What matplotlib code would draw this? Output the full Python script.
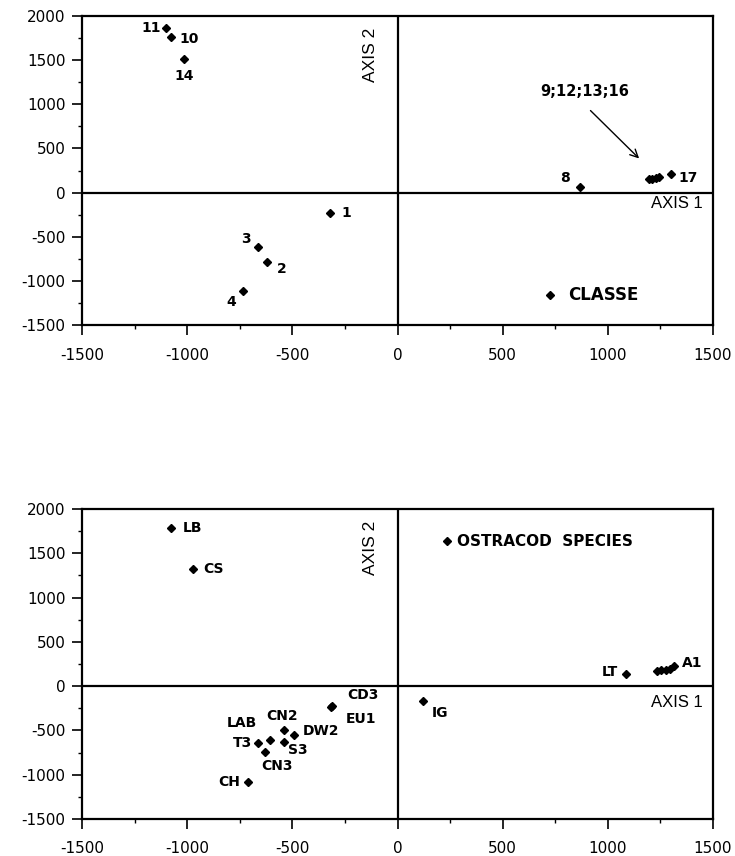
import matplotlib
matplotlib.use("Agg")
import matplotlib.pyplot as plt
from matplotlib.ticker import MultipleLocator

plt.rcParams["axes.unicode_minus"] = False

# --- top panel: classes ---
cls_x = [-1103, -1077, -1015, -323, -663, -619, -734, 868, 1195, 1212, 1228, 1244, 1299]
cls_y = [1865, 1757, 1508, -225, -620, -786, -1109, 68, 150, 158, 165, 172, 206]
cls_lab = ["11", "10", "14", "1", "3", "2", "4", "8", "", "", "", "", "17"]
# label offsets in pixels (dx, dy, ha)
cls_off = [(-5, 0, "right"), (8, -2, "left"), (0, -17, "center"), (12, 0, "left"),
           (-7, 8, "right"), (10, -7, "left"), (-7, -11, "right"), (-10, 9, "right"),
           (0, 0, "left"), (0, 0, "left"), (0, 0, "left"), (0, 0, "left"), (8, -4, "left")]
grp_text = "9;12;13;16"
grp_text_xy = (892, 1142)
grp_arrow_from = (908, 950)
grp_arrow_to = (1158, 364)
cls_legend_xy = (725, -1154)

# --- bottom panel: ostracod species ---
sp_x = [-1075, -971, -311, -316, -608, -540, -491, -661, -541, -632, -713, 123, 1087,
        1235, 1255, 1275, 1295, 1313]
sp_y = [1789, 1323, -226, -232, -606, -500, -553, -647, -632, -745, -1083, -165, 132,
        175, 180, 185, 192, 226]
sp_lab = ["LB", "CS", "CD3", "EU1", "LAB", "CN2", "DW2", "T3", "S3", "CN3", "CH", "IG", "LT",
          "", "", "", "", "A1"]
sp_off = [(11, 0, "left"), (10, 0, "left"), (15, 11, "left"), (15, -12, "left"),
          (-13, 17, "right"), (-2, 14, "center"), (8, 4, "left"), (-6, 0, "right"),
          (4, -8, "left"), (12, -14, "center"), (-7, 0, "right"), (8, -12, "left"),
          (-8, 2, "right"), (0, 0, "left"), (0, 0, "left"), (0, 0, "left"), (0, 0, "left"),
          (8, 3, "left")]
sp_legend_xy = (237, 1633)

xticks = [-1500, -1000, -500, 0, 500, 1000, 1500]
yticks = [-1500, -1000, -500, 0, 500, 1000, 1500, 2000]

fig = plt.figure(figsize=(7.35, 8.56), dpi=100)
ax1 = fig.add_axes([0.1116, 0.620, 0.8585, 0.3616])
ax2 = fig.add_axes([0.1116, 0.0432, 0.8585, 0.3622])


def setup(ax, axis1_y):
    ax.set_xlim(-1500, 1500)
    ax.set_ylim(-1500, 2000)
    ax.set_xticks(xticks)
    ax.set_yticks(yticks)
    ax.xaxis.set_minor_locator(MultipleLocator(250))
    ax.yaxis.set_minor_locator(MultipleLocator(250))
    ax.tick_params(which="major", direction="out", length=7, width=1.2,
                   labelsize=11, colors="black")
    ax.tick_params(which="minor", direction="out", length=3, width=1)
    ax.tick_params(axis="x", which="major", pad=9)
    ax.tick_params(axis="y", which="major", pad=5)
    for s in ax.spines.values():
        s.set_linewidth(1.6)
    ax.axhline(0, color="black", lw=1.6, zorder=1)
    ax.axvline(0, color="black", lw=1.6, zorder=1)
    ax.text(1450, axis1_y, "AXIS 1", ha="right", va="center", fontsize=12,
            family="Liberation Sans")
    ax.text(-95, 1560, "AXIS 2", ha="right", va="center", rotation=90, fontsize=12.5,
            family="Liberation Sans")


def points(ax, xs, ys, labs, offs):
    ax.plot(xs, ys, "D", color="black", markersize=4, zorder=3)
    for x, y, lab, (dx, dy, ha) in zip(xs, ys, labs, offs):
        if lab:
            ax.annotate(lab, (x, y), xytext=(dx, dy), textcoords="offset pixels",
                        ha=ha, va="center", fontsize=10, fontweight="bold")


setup(ax1, -121)
points(ax1, cls_x, cls_y, cls_lab, cls_off)
ax1.text(grp_text_xy[0], grp_text_xy[1], grp_text, ha="center", va="center",
         fontsize=10.5, fontweight="bold")
ax1.annotate("", xy=grp_arrow_to, xytext=grp_arrow_from,
             arrowprops=dict(arrowstyle="->", color="black", lw=1, mutation_scale=14))
ax1.plot([cls_legend_xy[0]], [cls_legend_xy[1]], "D", color="black", markersize=4)
ax1.annotate("CLASSE", cls_legend_xy, xytext=(18, 0), textcoords="offset pixels",
             ha="left", va="center", fontsize=12, fontweight="bold")

setup(ax2, -180)
points(ax2, sp_x, sp_y, sp_lab, sp_off)
ax2.plot([sp_legend_xy[0]], [sp_legend_xy[1]], "D", color="black", markersize=4)
ax2.annotate("OSTRACOD  SPECIES", sp_legend_xy, xytext=(10, 0), textcoords="offset pixels",
             ha="left", va="center", fontsize=11, fontweight="bold")

fig.savefig("out.png", dpi=100)
